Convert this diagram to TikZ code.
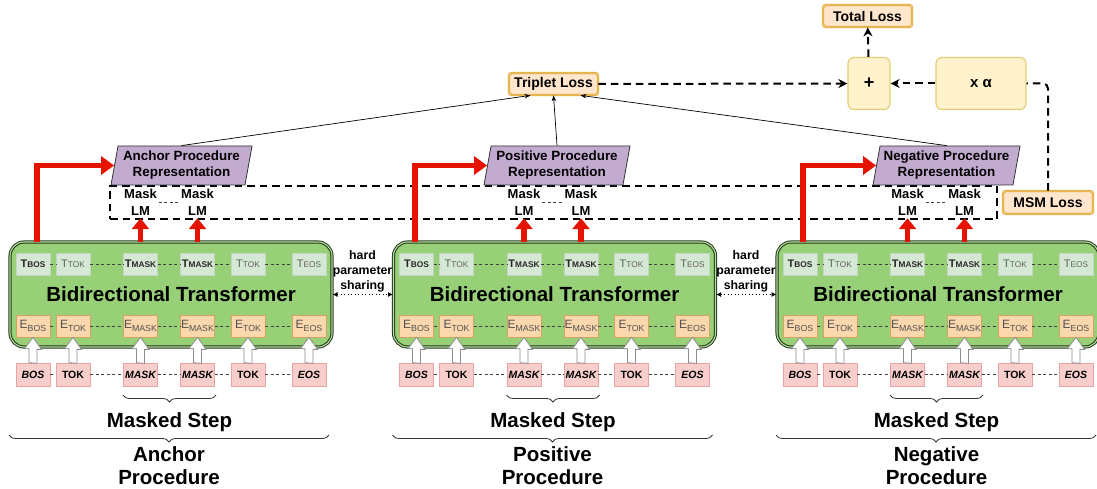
\documentclass[tikz,border=0pt]{standalone}
\usepackage{fontspec}
\setmainfont{Liberation Sans}
\usetikzlibrary{arrows.meta,shapes.geometric,decorations.pathreplacing,calc}
\definecolor{gfill}{HTML}{97D077}
\definecolor{gdark}{HTML}{22381A}
\definecolor{gdbl}{HTML}{B5DC9E}
\definecolor{tfill}{HTML}{D5E8D4}
\definecolor{efill}{HTML}{FAD7AC}
\definecolor{eborder}{HTML}{D9A25E}
\definecolor{infill}{HTML}{F8CECC}
\definecolor{inborder}{HTML}{E8A4A2}
\definecolor{pfill}{HTML}{C3ABD0}
\definecolor{lossfill}{HTML}{FFE6CC}
\definecolor{lossborder}{HTML}{DFA733}
\definecolor{lossdbl}{HTML}{F3D08A}
\definecolor{yfill}{HTML}{FFF2CC}
\definecolor{yborder}{HTML}{E6CD7A}
\definecolor{redc}{HTML}{E51400}
\newcommand\Tlab[1]{{\fontsize{11}{12}\selectfont T\fontsize{8.3}{9}\selectfont #1}}
\newcommand\Elab[1]{{\fontsize{12}{13}\selectfont E\raisebox{-2.5pt}{\fontsize{8.8}{9}\selectfont #1}}}
\tikzset{
  every node/.style={font=\bfseries},
  block/.style={draw=gdark, line width=1pt, double=gdbl, double distance=1.1pt, fill=gfill,
    rounded corners=14pt, minimum width=322pt, minimum height=105pt, inner sep=0pt,
    font=\fontsize{20.5}{24}\selectfont\bfseries},
  tbox/.style={fill=tfill, draw=tfill!92!black, line width=0.4pt, minimum width=34pt, minimum height=22pt, inner sep=0pt},
  td/.style={font=\bfseries, text=black!85},
  tl/.style={font=\mdseries, text=black!62},
  ebox/.style={fill=efill, draw=eborder, line width=0.7pt, minimum width=34pt, minimum height=22pt, inner sep=0pt, font=\mdseries, text=black!68},
  inbox/.style={fill=infill, draw=inborder, line width=0.7pt, minimum width=34pt, minimum height=23pt, inner sep=0pt, font=\fontsize{10.5}{12}\selectfont\bfseries},
  hollow/.style={draw=black!45, fill=white, line width=0.8pt, line join=miter},
  tokdash/.style={draw=black!75, line width=0.7pt, dash pattern=on 3pt off 2.5pt},
  rep/.style={trapezium, trapezium left angle=77, trapezium right angle=103, trapezium stretches body,
    draw=black!80, line width=0.8pt, fill=pfill, minimum height=39pt, inner sep=1pt, align=center,
    font=\fontsize{13.4}{16}\selectfont\bfseries},
  masklbl/.style={fill=white, minimum width=36pt, minimum height=31pt, inner sep=0pt, align=center,
    font=\fontsize{13}{17}\selectfont\bfseries},
  lossbox/.style={draw=lossborder, line width=0.8pt, double=lossdbl, double distance=0.8pt, fill=lossfill,
    rounded corners=3pt, inner sep=0pt, font=\fontsize{14}{16}\selectfont\bfseries},
  ybox/.style={draw=yborder, line width=1.2pt, fill=yfill, rounded corners=6pt, inner sep=0pt},
  redbig/.style={draw=redc, line width=5.5pt, -{Triangle[length=13pt,width=18pt]}},
  redsmall/.style={draw=redc, line width=5.5pt, -{Triangle[length=11pt,width=17pt]}},
  thinarrow/.style={draw=black, line width=0.7pt, -{Stealth[length=6pt,width=4.5pt]}},
  dashline/.style={draw=black, line width=2pt, dash pattern=on 7.5pt off 5pt},
  dasharrow/.style={dashline, -{Stealth[length=9pt,width=9pt]}},
  dotarrow/.style={draw=black, line width=0.9pt, dash pattern=on 1pt off 2.5pt,
    {Latex[length=5pt,width=5pt]}-{Latex[length=5pt,width=5pt]}},
  bracebig/.style={draw=black!80, line width=0.8pt, decorate, decoration={brace, mirror, amplitude=7pt}},
  bigtxt/.style={font=\fontsize{20.5}{23}\selectfont\bfseries, align=center},
  hpstxt/.style={font=\fontsize{12.3}{15}\selectfont\bfseries, align=center}
}
\begin{document}
\begin{tikzpicture}[x=1pt,y=-1pt]
\useasboundingbox (0,0) rectangle (1097,489);

% dashed MSM region box
\node[dashline, minimum width=887pt, minimum height=33pt, inner sep=0pt] (mbox) at (553.5,202.5) {};

\foreach \b/\ox in {1/0,2/383.5,3/767}{
  \node[block] (blk\b) at ({171+\ox},294.5) {Bidirectional Transformer};
  \foreach \i/\rx/\sub/\tc/\ist in {1/33/BOS/td/\itshape, 2/73/TOK/tl/\upshape, 3/140.5/MASK/td/\itshape,
      4/197.5/MASK/td/\itshape, 5/248/TOK/tl/\upshape, 6/309/EOS/tl/\itshape}{
    \node[tbox, \tc] (t\b-\i) at ({\rx+\ox},264) {\Tlab{\sub}};
    \node[ebox] (e\b-\i) at ({\rx+\ox},326) {\Elab{\sub}};
    \node[inbox] (in\b-\i) at ({\rx+\ox},374.5) {\ist\sub};
    \draw[hollow] ($(in\b-\i.north)+(-4,0)$) -- ++(0,-14) -- ++(-4.5,0) -- (e\b-\i.south)
      -- ++(8.5,12) -- ++(-4.5,0) -- ++(0,14) -- cycle;
  }
  \foreach \j [evaluate=\j as \k using int(\j+1)] in {1,...,5}{
    \draw[tokdash] (t\b-\j) -- (t\b-\k);
    \draw[tokdash] (e\b-\j) -- (e\b-\k);
    \draw[tokdash] (in\b-\j) -- (in\b-\k);
  }
  % mask LM labels
  \node[masklbl] (ml\b-1) at ({140.5+\ox},202.5) {Mask\\LM};
  \node[masklbl] (ml\b-2) at ({197.5+\ox},202.5) {Mask\\LM};
  \draw[tokdash] (ml\b-1) -- (ml\b-2);
  \draw[redsmall] (t\b-3.north |- blk\b.north) -- (ml\b-1.south);
  \draw[redsmall] (t\b-4.north |- blk\b.north) -- (ml\b-2.south);
  % braces and labels
  \draw[bracebig] ({123+\ox},395) -- ({216+\ox},395);
  \node[bigtxt] (ms\b) at ({169.5+\ox},422) {Masked Step};
  \draw[bracebig] ({9+\ox},435) -- ({329+\ox},435);
}

\node[bigtxt] (pl1) at (169,465.5) {Anchor\\Procedure};
\node[bigtxt] (pl2) at (552.5,465.5) {Positive\\Procedure};
\node[bigtxt] (pl3) at (936.5,465.5) {Negative\\Procedure};

% representations
\node[rep, minimum width=141pt] (rep1) at (181.5,165.5) {Anchor Procedure\\Representation};
\node[rep, minimum width=146pt] (rep2) at (557,165.5) {Positive Procedure\\Representation};
\node[rep, minimum width=147pt] (rep3) at (946.5,165.5) {Negative Procedure\\Representation};

% red arrows to representations
\coordinate (rs1) at (37,242);
\coordinate (rs2) at (415,242);
\coordinate (rs3) at (803,242);
\draw[redbig] (rs1) |- (rep1.west);
\draw[redbig] (rs2) |- (rep2.west);
\draw[redbig] (rs3) |- (rep3.west);

% hard parameter sharing
\node[hpstxt] (hps1) at (362.5,271) {hard\\parameter\\sharing};
\node[hpstxt] (hps2) at (746,271) {hard\\parameter\\sharing};
\draw[dotarrow] (blk1.east) -- (blk2.west);
\draw[dotarrow] (blk2.east) -- (blk3.west);

% losses
\node[lossbox, minimum width=89pt, minimum height=22pt] (total) at (867.5,16) {Total Loss};
\node[ybox, minimum width=42pt, minimum height=52pt, font=\fontsize{18}{20}\selectfont\bfseries] (plus) at (869,83.5) {+};
\node[ybox, minimum width=90pt, minimum height=52pt, font=\fontsize{15}{18}\selectfont\bfseries] (xa) at (981,83.5) {x α};
\node[lossbox, minimum width=89pt, minimum height=22pt] (trip) at (553.5,84) {Triplet Loss};
\node[lossbox, minimum width=90pt, minimum height=23pt] (msm) at (1048,202.5) {MSM Loss};

\coordinate (tripA) at ($(trip.south)+(-23,0)$);
\coordinate (tripC) at ($(trip.south)+(27,0)$);
\draw[thinarrow] (rep1.north) -- (tripA);
\draw[thinarrow] (rep2.north) -- (trip.south);
\draw[thinarrow] (rep3.north) -- (tripC);

\draw[dasharrow] (trip) -- (plus);
\draw[dasharrow] (xa) -- (plus);
\draw[dasharrow] (plus) -- (total);
\draw[dashline, rounded corners=5pt] (msm.north) |- (xa.east);
\end{tikzpicture}
\end{document}
